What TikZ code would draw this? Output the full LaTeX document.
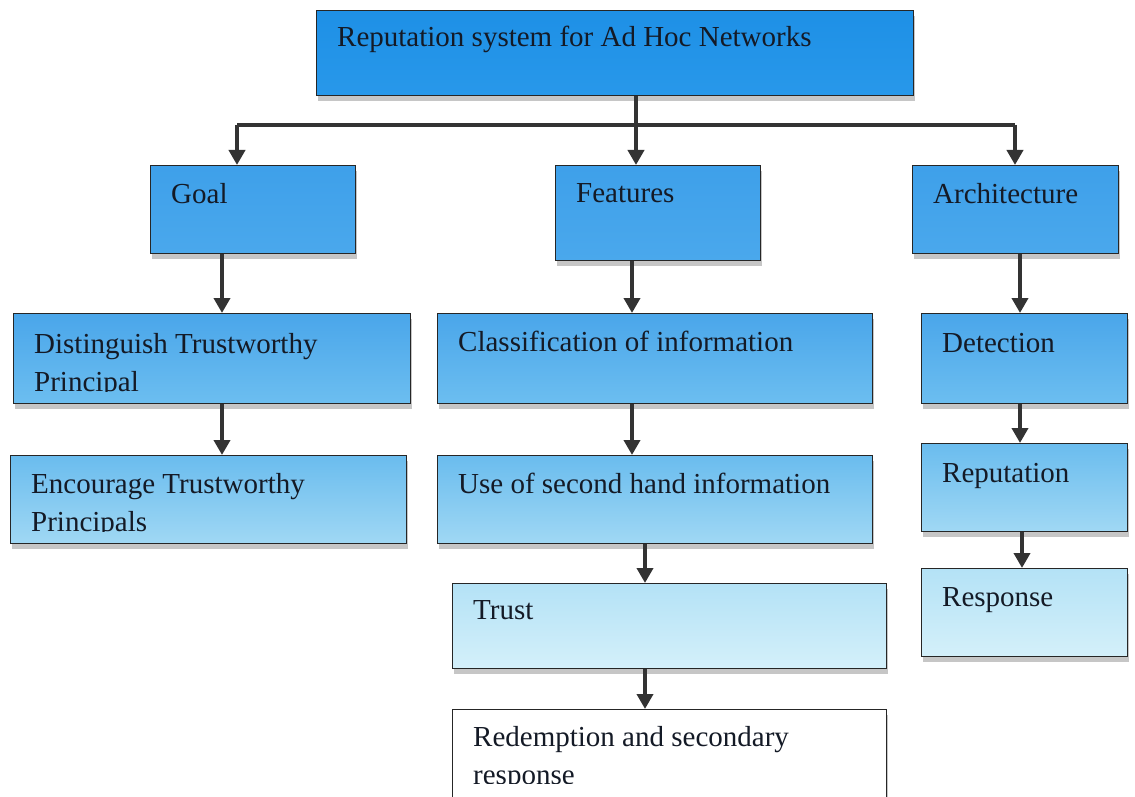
\documentclass[tikz,border=0pt]{standalone}
\usepackage{fontspec}
\setmainfont{Liberation Serif}
\usetikzlibrary{arrows.meta, shadows}

\definecolor{ink}{RGB}{20,26,38}
\definecolor{topA}{RGB}{30,144,230}
\definecolor{topB}{RGB}{40,152,234}
\definecolor{oneA}{RGB}{62,160,234}
\definecolor{oneB}{RGB}{74,168,236}
\definecolor{twoA}{RGB}{74,166,234}
\definecolor{twoB}{RGB}{108,190,240}
\definecolor{thrA}{RGB}{106,188,238}
\definecolor{thrB}{RGB}{160,216,244}
\definecolor{fouA}{RGB}{180,226,246}
\definecolor{fouB}{RGB}{212,240,250}

\begin{document}
\begin{tikzpicture}[x=1pt, y=-1pt,
  blk/.style={draw=black!85, line width=1.3pt, anchor=north west, inner sep=0pt,
    drop shadow={shadow xshift=1.5pt, shadow yshift=-5pt, opacity=0.45}},
  lvl0/.style={blk, top color=topA, bottom color=topB},
  lvl1/.style={blk, top color=oneA, bottom color=oneB},
  lvl2/.style={blk, top color=twoA, bottom color=twoB},
  lvl3/.style={blk, top color=thrA, bottom color=thrB},
  lvl4/.style={blk, top color=fouA, bottom color=fouB},
  lvl5/.style={blk, fill=white},
  lbl/.style={anchor=north west, inner sep=0pt, align=left, text=ink,
    font=\fontsize{29}{38}\selectfont},
  arr/.style={line width=4pt, draw=black!80, -{Triangle[length=15pt, width=16pt]}}]
  \useasboundingbox (0,0) rectangle (1135,797);
  \clip (0,0) rectangle (1135,797);
  \def\padx{21}
  \def\pady{18}

  % boxes
  \node[lvl0, minimum width=597pt, minimum height=85pt] (top) at (316,10) {};
  \node[lvl1, minimum width=205pt, minimum height=88pt] (goal) at (150,165) {};
  \node[lvl1, minimum width=205pt, minimum height=95pt] (feat) at (555,165) {};
  \node[lvl1, minimum width=206pt, minimum height=88pt] (arch) at (912,165) {};
  \node[lvl2, minimum width=397pt, minimum height=90pt] (dist) at (13,313) {};
  \node[lvl2, minimum width=435pt, minimum height=90pt] (clas) at (437,313) {};
  \node[lvl2, minimum width=206pt, minimum height=90pt] (detc) at (921,313) {};
  \node[lvl3, minimum width=396pt, minimum height=88pt] (enc) at (10,455) {};
  \node[lvl3, minimum width=435pt, minimum height=88pt] (second) at (437,455) {};
  \node[lvl3, minimum width=206pt, minimum height=88pt] (rept) at (921,443) {};
  \node[lvl4, minimum width=434pt, minimum height=85pt] (trust) at (452,583) {};
  \node[lvl4, minimum width=206pt, minimum height=88pt] (resp) at (921,568) {};
  \node[lvl5, minimum width=434pt, minimum height=110pt] (redm) at (452,709) {};

  % texts
  \node[lbl] (top-t) at ([shift={(\padx,16)}]top.north west) {Reputation system for Ad Hoc Networks};
  \node[lbl] (goal-t) at ([shift={(\padx,\pady)}]goal.north west) {Goal};
  \node[lbl] (feat-t) at ([shift={(\padx,\pady)}]feat.north west) {Features};
  \node[lbl] (arch-t) at ([shift={(\padx,\pady)}]arch.north west) {Architecture};
  \begin{scope}
    \clip (dist.north west) rectangle (410,391);
    \node[lbl] (dist-t) at ([shift={(\padx,20)}]dist.north west) {Distinguish Trustworthy\\Principal};
  \end{scope}
  \node[lbl] (clas-t) at ([shift={(\padx,\pady)}]clas.north west) {Classification of information};
  \node[lbl] (detc-t) at ([shift={(\padx,20)}]detc.north west) {Detection};
  \begin{scope}
    \clip (enc.north west) rectangle (406,531);
    \node[lbl] (enc-t) at ([shift={(\padx,\pady)}]enc.north west) {Encourage Trustworthy\\Principals};
  \end{scope}
  \node[lbl] (second-t) at ([shift={(\padx,\pady)}]second.north west) {Use of second hand information};
  \node[lbl] (rept-t) at ([shift={(\padx,20)}]rept.north west) {Reputation};
  \node[lbl] (trust-t) at ([shift={(\padx,17)}]trust.north west) {Trust};
  \node[lbl] (resp-t) at ([shift={(\padx,19)}]resp.north west) {Response};
  \begin{scope}
    \clip (redm.north west) rectangle (886,783);
    \node[lbl] (redm-t) at ([shift={(\padx,17)}]redm.north west) {Redemption and secondary\\response};
  \end{scope}

  % connectors
  \coordinate (barL) at (237,125);
  \coordinate (barR) at (1015,125);
  \draw[line width=4.5pt, draw=black!80] (barL) -- (barR);
  \draw[arr] (636,0 |- top.south) -- (636,0 |- feat.north);
  \draw[arr] (barL) -- (barL |- goal.north);
  \draw[arr] (barR) -- (barR |- arch.north);
  \draw[arr] (222,0 |- goal.south) -- (222,0 |- dist.north);
  \draw[arr] (222,0 |- dist.south) -- (222,0 |- enc.north);
  \draw[arr] (632,0 |- feat.south) -- (632,0 |- clas.north);
  \draw[arr] (632,0 |- clas.south) -- (632,0 |- second.north);
  \draw[arr] (645,0 |- second.south) -- (645,0 |- trust.north);
  \draw[arr] (645,0 |- trust.south) -- (645,0 |- redm.north);
  \draw[arr] (1020,0 |- arch.south) -- (1020,0 |- detc.north);
  \draw[arr] (1020,0 |- detc.south) -- (1020,0 |- rept.north);
  \draw[arr] (1022,0 |- rept.south) -- (1022,0 |- resp.north);
\end{tikzpicture}
\end{document}
